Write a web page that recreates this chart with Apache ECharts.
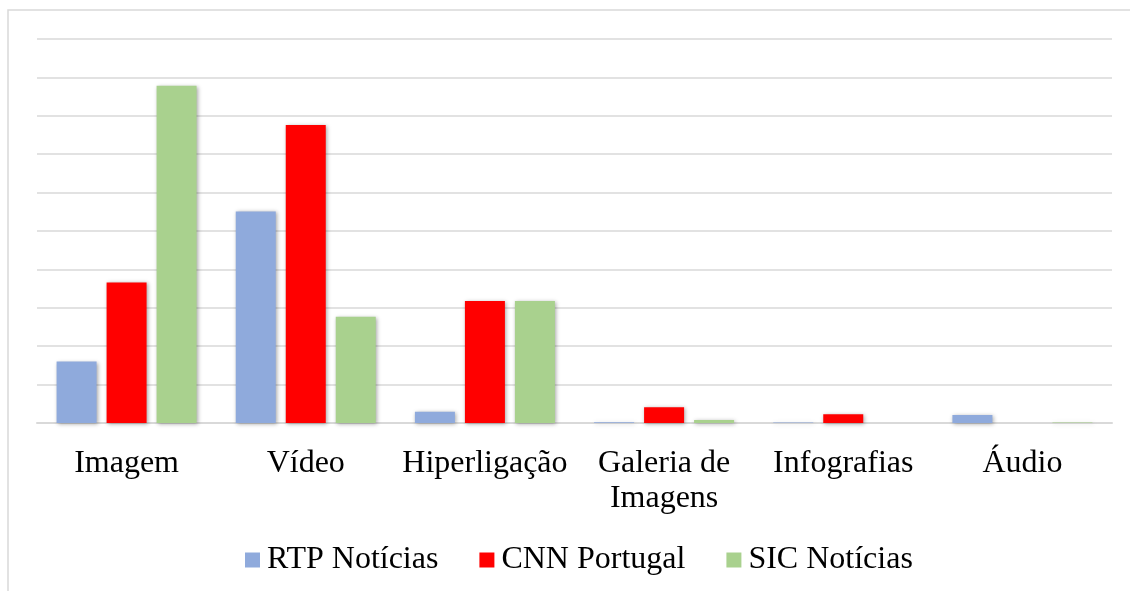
<!DOCTYPE html>
<html>
<head>
<meta charset="utf-8">
<script src="https://cdn.jsdelivr.net/npm/echarts@6/dist/echarts.min.js"></script>
<style>
  html, body { margin: 0; padding: 0; background: #fff; }
  #chart { width: 1130px; height: 591px; }
</style>
</head>
<body>
<div id="chart"></div>
<script>
// categorias e valores (unidades da grelha)
const categorias = ['Imagem', 'Vídeo', 'Hiperligação', 'Galeria de\nImagens', 'Infografias', 'Áudio'];
const rtp = [1.60, 5.51, 0.29, 0.02, 0.01, 0.21];
const cnn = [3.66, 7.76, 3.18, 0.41, 0.23, 0];
const sic = [8.78, 2.77, 3.18, 0.08, 0, 0.01];

const serif = 'Liberation Serif';

const barShadow = {
  shadowBlur: 4,
  shadowColor: 'rgba(0,0,0,0.35)',
  shadowOffsetX: 1,
  shadowOffsetY: 1
};

const chart = echarts.init(document.getElementById('chart'));

const option = {
  animation: false,
  grid: { left: 37, right: 18, top: 39, bottom: 168 },
  graphic: [
    {
      type: 'rect',
      shape: { x: 8, y: 10, width: 1200, height: 700 },
      style: { fill: 'none', stroke: '#d9d9d9', lineWidth: 1.5 },
      z: -1
    }
  ],
  legend: {
    top: 544,
    left: 245,
    padding: 0,
    itemWidth: 15,
    itemHeight: 15,
    itemGap: 41,
    icon: 'rect',
    textStyle: { fontFamily: serif, fontSize: 32, color: '#000', padding: [0, 0, 0, 2] },
    data: ['RTP Notícias', 'CNN Portugal', 'SIC Notícias']
  },
  xAxis: {
    type: 'category',
    data: categorias,
    axisTick: { show: false },
    axisLine: { lineStyle: { color: '#d9d9d9', width: 2 } },
    axisLabel: {
      fontFamily: serif,
      fontSize: 32,
      lineHeight: 35,
      color: '#000',
      margin: 23,
      interval: 0
    }
  },
  yAxis: {
    type: 'value',
    min: 0,
    max: 10,
    interval: 1,
    axisLabel: { show: false },
    axisLine: { show: false },
    axisTick: { show: false },
    splitLine: { lineStyle: { color: '#d9d9d9', width: 1.5 } }
  },
  series: [
    {
      name: 'RTP Notícias',
      type: 'bar',
      data: rtp,
      barWidth: 40,
      barGap: '25%',
      itemStyle: Object.assign({ color: '#8faadc' }, barShadow)
    },
    {
      name: 'CNN Portugal',
      type: 'bar',
      data: cnn,
      barWidth: 40,
      barGap: '25%',
      itemStyle: Object.assign({ color: '#ff0000' }, barShadow)
    },
    {
      name: 'SIC Notícias',
      type: 'bar',
      data: sic,
      barWidth: 40,
      barGap: '25%',
      itemStyle: Object.assign({ color: '#a9d18e' }, barShadow)
    }
  ]
};

chart.setOption(option);
</script>
</body>
</html>
